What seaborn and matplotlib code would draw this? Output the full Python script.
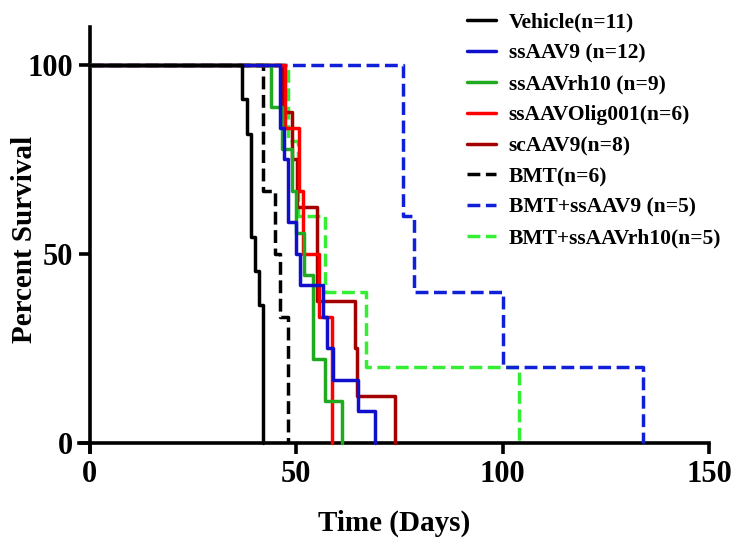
import numpy as np
import pandas as pd
import matplotlib
matplotlib.use('Agg')
import matplotlib.pyplot as plt
import seaborn as sns

# day of death for each animal
vehicle_days = [37, 38, 39, 39, 39, 40, 41, 42, 42, 42, 42]
ssaav9_days = [46, 46, 47, 48, 48, 50, 51, 56.5, 57.5, 59, 65, 69]
ssaavrh10_days = [44, 46.5, 49, 50, 52, 54, 54, 57, 61]
olig001_days = [47.3, 50.7, 51.7, 55.5, 58.8, 58.8]
scaav9_days = [46.8, 49, 50.1, 55, 55, 64.2, 64.7, 74]
bmt_days = [42, 42, 45, 46, 48, 48]
bmt_ssaav9_days = [76, 76, 78.5, 100, 134]
bmt_rh10_days = [48, 50.5, 57, 67, 104]

groups = ['Vehicle(n=11)', 'ssAAV9 (n=12)', 'ssAAVrh10 (n=9)', 'ssAAVOlig001(n=6)',
          'scAAV9(n=8)', 'BMT(n=6)', 'BMT+ssAAV9 (n=5)', 'BMT+ssAAVrh10(n=5)']
all_days = [vehicle_days, ssaav9_days, ssaavrh10_days, olig001_days,
            scaav9_days, bmt_days, bmt_ssaav9_days, bmt_rh10_days]
colors = ['black', '#1010CC', '#1FAA1F', '#FF0000', '#A50000', 'black', '#1020D8', '#33EE33']
styles = ['-', '-', '-', '-', '-', '--', '--', '--']


def km_curve(days):
    n = len(days)
    s = pd.Series(days).value_counts().sort_index()
    t = [0] + list(s.index)
    surv = [100] + list(100 * (n - s.cumsum().values) / n)
    return pd.DataFrame({'day': t, 'surv': surv})


sns.set_style('ticks', {'axes.edgecolor': 'black', 'xtick.color': 'black',
                        'ytick.color': 'black', 'text.color': 'black',
                        'axes.labelcolor': 'black'})
plt.rcParams['font.family'] = ['Liberation Serif', 'DejaVu Serif']
plt.rcParams['font.weight'] = 'bold'

fig = plt.figure(figsize=(7.48, 5.55), dpi=100)
ax = fig.add_axes([0.106, 0.185, 0.842, 0.766])

for i, (g, d) in enumerate(zip(groups, all_days)):
    df = km_curve(d)
    ls = styles[i]
    kw = dict(dashes=(3.0, 2.0)) if ls == '--' else {}
    sns.lineplot(data=df, x='day', y='surv', ax=ax, color=colors[i], linestyle=ls,
                 drawstyle='steps-post', linewidth=2.5, label=g, zorder=20 - i,
                 estimator=None, sort=False, **kw)

ax.set_xlim(-2.5, 150)
ax.set_ylim(-2.5, 110)
ax.spines['left'].set_position(('data', 0))
ax.spines['bottom'].set_position(('data', 0))
for sp in ['top', 'right']:
    ax.spines[sp].set_visible(False)
for sp in ['left', 'bottom']:
    ax.spines[sp].set_linewidth(2.6)
ax.set_xticks([0, 50, 100, 150])
ax.set_yticks([0, 50, 100])
ax.tick_params(axis='both', direction='out', length=8, width=2.6, labelsize=22, pad=4)
for lab in ax.get_xticklabels() + ax.get_yticklabels():
    lab.set_fontweight('bold')

ax.set_xlabel('Time (Days)', fontsize=21, fontweight='bold')
ax.set_ylabel('Percent Survival', fontsize=21, fontweight='bold')
ax.xaxis.set_label_coords(0.5, -0.135)
ax.yaxis.set_label_coords(-0.066, 0.5)

leg = ax.legend(loc='upper left', bbox_to_anchor=(456 / 748, 1 - 2 / 555),
                bbox_transform=fig.transFigure, frameon=False, fontsize=15.5,
                handlelength=1.35, handletextpad=0.6, labelspacing=0.5, borderpad=0)
for t in leg.get_texts():
    t.set_fontweight('bold')

fig.savefig('out.png', dpi=100)
